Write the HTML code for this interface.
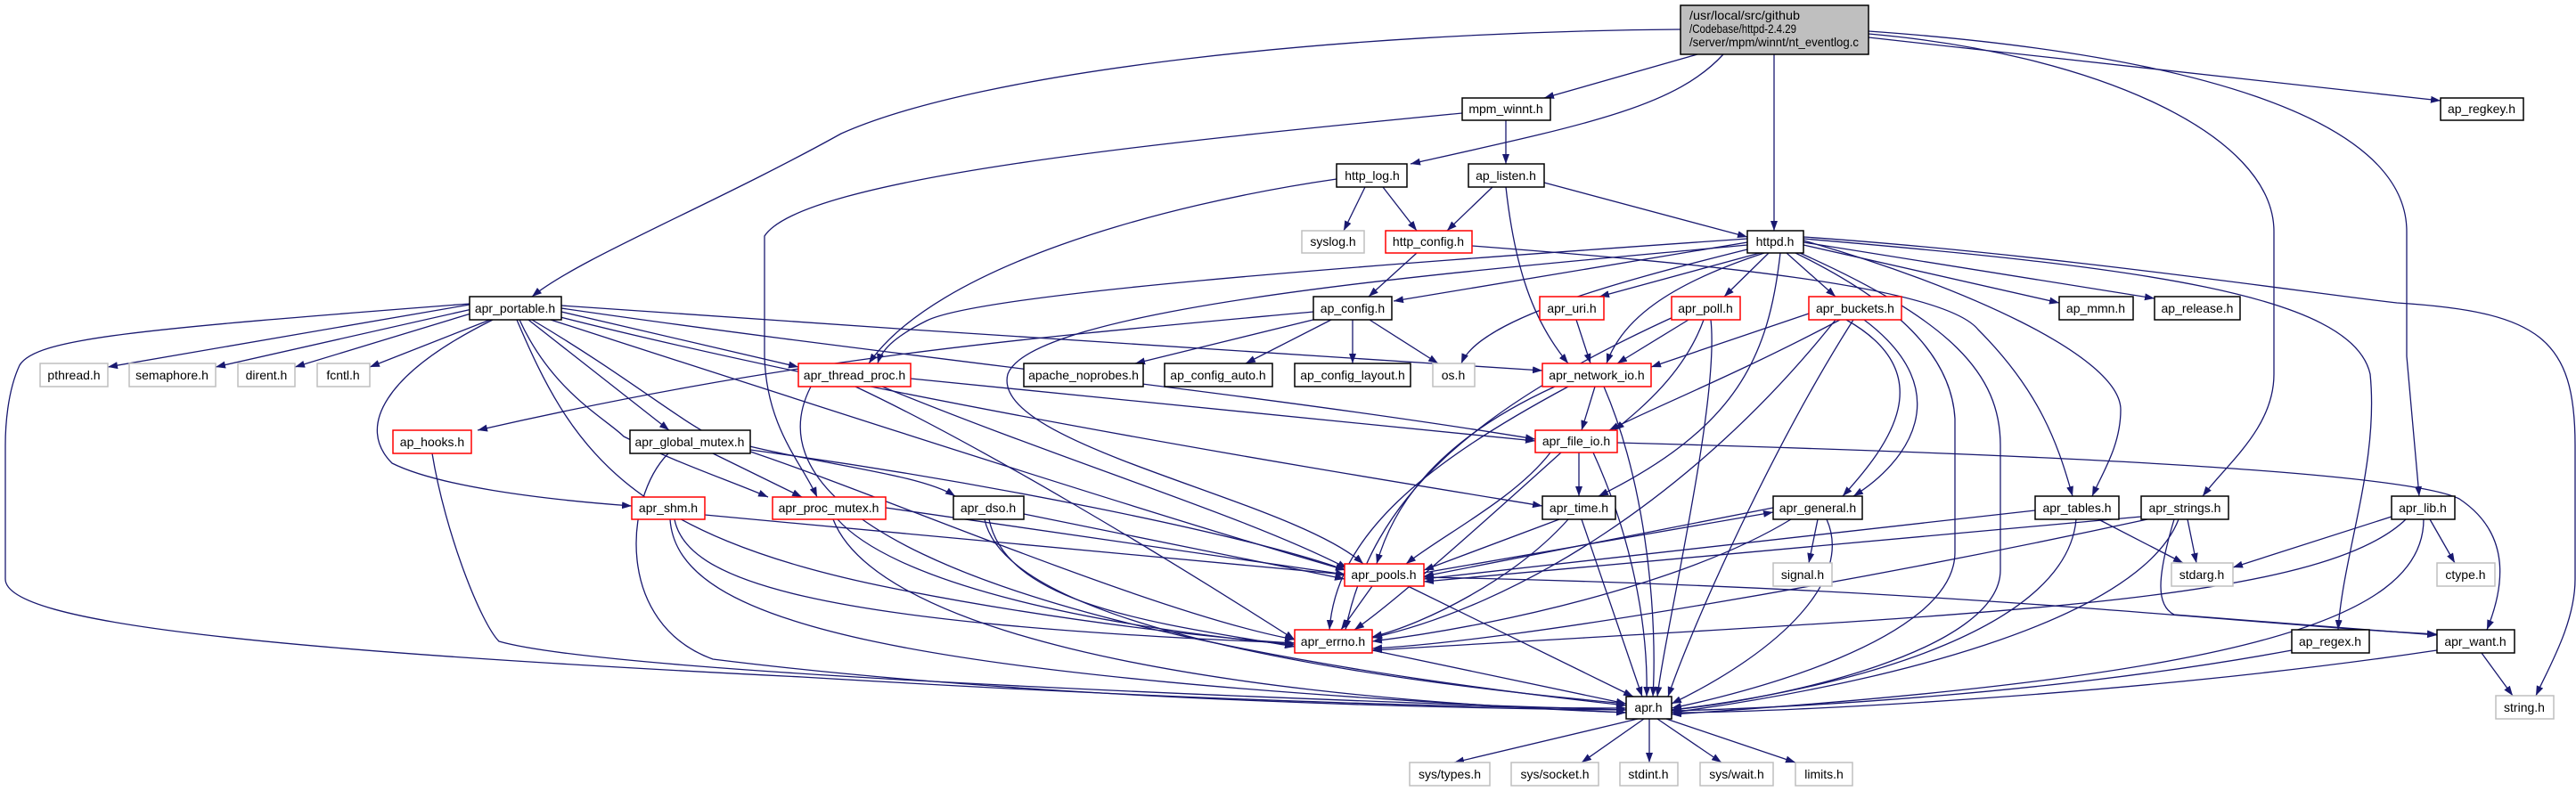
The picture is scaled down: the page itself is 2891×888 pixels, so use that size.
<!DOCTYPE html>
<html><head><meta charset="utf-8"><style>
html,body{margin:0;padding:0;background:#fff;}
svg{display:block;}
text{font-family:"Liberation Sans",sans-serif;font-size:14px;fill:#000;}
</style></head><body>
<svg width="2891" height="888" viewBox="0 0 2891 888" xmlns="http://www.w3.org/2000/svg">
<defs><marker id="a" markerWidth="11" markerHeight="8" refX="11" refY="4" orient="auto" markerUnits="userSpaceOnUse"><path d="M0,0 L11,4 L0,8 z" fill="#191970"/></marker></defs>
<g fill="none" stroke="#191970" stroke-width="1.3" marker-end="url(#a)">
<path d="M1905,61 L1733,110"/>
<path d="M1934,61 C1880,120 1780,140 1583,184"/>
<path d="M1991,61 L1991,259"/>
<path d="M2097,42 L2739,113"/>
<path d="M1886,33 C1500,36 1100,80 944,150 C800,230 650,290 597,333"/>
<path d="M2097,38 C2350,60 2552,150 2552,260 L2552,420 C2552,480 2500,520 2472,557"/>
<path d="M2097,35 C2450,60 2701,130 2701,260 L2701,400 L2715,557"/>
<path d="M1690,135 L1690,184"/>
<path d="M1641,127 C1300,160 900,200 858,265 L858,400 C860,480 900,520 917,558"/>
<path d="M1532,210 L1508,259"/>
<path d="M1552,210 L1590,259"/>
<path d="M1500,201 C1300,230 1050,300 975,408"/>
<path d="M1675,210 L1624,259"/>
<path d="M1733,205 L1961,266"/>
<path d="M1690,210 C1700,300 1720,360 1760,408"/>
<path d="M1590,284 L1536,333"/>
<path d="M1652,276 C1900,295 2180,320 2220,370 C2290,440 2310,500 2326,557"/>
<path d="M2024,270 C2200,320 2380,400 2380,460 C2380,500 2360,530 2348,557"/>
<path d="M1961,272 L1564,338"/>
<path d="M1961,268 C1500,300 1100,330 1040,360 C1010,375 990,390 985,408"/>
<path d="M1961,275 C1700,300 1160,340 1131,420 C1110,500 1450,560 1530,633"/>
<path d="M1961,280 C1800,320 1660,360 1640,408"/>
<path d="M1975,284 L1795,333"/>
<path d="M1980,284 C1870,320 1820,360 1803,408"/>
<path d="M1985,284 L1935,333"/>
<path d="M2005,284 L2060,333"/>
<path d="M2024,275 L2311,340"/>
<path d="M2024,272 L2418,335"/>
<path d="M1998,284 C1985,400 1950,480 1794,557"/>
<path d="M2015,284 C2130,340 2190,400 2194,470 L2194,620 C2194,720 1950,780 1876,795"/>
<path d="M2020,284 C2190,360 2245,420 2245,500 L2245,640 C2245,730 2000,785 1876,797"/>
<path d="M2024,268 C2400,300 2640,330 2660,420 C2670,520 2630,620 2624,707"/>
<path d="M2024,266 C2300,285 2600,330 2690,340 C2850,350 2890,380 2890,500 L2890,650 C2890,700 2860,750 2846,781"/>
<path d="M1490,355 L1274,408"/>
<path d="M1494,359 L1398,408"/>
<path d="M1518,359 L1518,408"/>
<path d="M1537,359 L1614,408"/>
<path d="M1474,350 C1150,380 900,400 536,483"/>
<path d="M527,342 L121,412"/>
<path d="M530,347 L242,412"/>
<path d="M535,350 L331,412"/>
<path d="M550,359 L415,412"/>
<path d="M527,341 C150,370 40,380 22,410 C8,440 6,480 6,500 L6,650 C6,700 300,730 900,760 C1400,790 1700,795 1825,795"/>
<path d="M553,359 C430,420 400,480 440,520 C490,545 600,560 709,568"/>
<path d="M593,359 L751,483"/>
<path d="M583,359 C620,440 680,470 700,490 C760,520 820,540 862,558"/>
<path d="M597,359 C700,420 760,470 800,490 C900,520 1030,530 1072,557"/>
<path d="M580,359 C640,500 700,600 1000,660 C1200,700 1400,720 1453,722"/>
<path d="M618,359 C900,450 1300,580 1510,640"/>
<path d="M625,355 C1000,450 1500,530 1731,568"/>
<path d="M630,350 L896,412"/>
<path d="M630,343 C1000,370 1500,400 1731,416"/>
<path d="M630,346 C1000,400 1400,440 1723,493"/>
<path d="M1769,359 L1785,408"/>
<path d="M1895,359 L1815,408"/>
<path d="M1912,359 C1890,420 1840,460 1812,483"/>
<path d="M1880,355 C1650,460 1540,560 1510,707"/>
<path d="M1920,359 C1930,450 1870,700 1860,782"/>
<path d="M2030,352 L1853,412"/>
<path d="M2065,359 C1950,420 1850,460 1806,483"/>
<path d="M2072,359 C2180,420 2120,500 2068,557"/>
<path d="M2092,359 C2200,440 2140,520 2080,557"/>
<path d="M2060,359 C1900,560 1700,680 1540,716"/>
<path d="M2080,359 C1990,500 1900,700 1872,782"/>
<path d="M1022,425 L1723,495"/>
<path d="M990,434 C1200,520 1400,580 1512,638"/>
<path d="M960,434 C1100,500 1300,620 1453,718"/>
<path d="M910,434 C850,550 1000,700 1825,792"/>
<path d="M1790,434 L1775,483"/>
<path d="M1745,434 C1600,500 1560,580 1545,633"/>
<path d="M1760,434 C1600,520 1500,600 1492,707"/>
<path d="M1800,434 C1850,550 1860,700 1855,782"/>
<path d="M1772,508 L1772,557"/>
<path d="M1740,508 C1700,560 1620,600 1578,633"/>
<path d="M1752,508 C1650,600 1560,680 1520,707"/>
<path d="M1788,508 C1830,600 1850,700 1848,782"/>
<path d="M1815,497 C2300,510 2700,530 2760,560 C2820,600 2810,660 2791,707"/>
<path d="M485,509 C500,600 540,700 560,720 C700,760 1600,790 1825,797"/>
<path d="M800,509 L900,558"/>
<path d="M842,505 C1100,540 1400,600 1510,640"/>
<path d="M842,507 C1000,560 1300,690 1453,718"/>
<path d="M750,509 C700,560 690,700 800,740 C1200,790 1700,796 1825,797"/>
<path d="M791,578 L1510,645"/>
<path d="M757,583 C770,650 900,700 1453,722"/>
<path d="M752,583 C760,700 1000,760 1825,800"/>
<path d="M994,570 L1510,645"/>
<path d="M940,583 C1000,650 1200,700 1453,724"/>
<path d="M935,583 C980,700 1300,780 1825,800"/>
<path d="M1149,577 L1509,650"/>
<path d="M1110,583 C1130,680 1300,700 1453,726"/>
<path d="M1105,583 C1130,700 1500,760 1825,790"/>
<path d="M1750,583 L1598,640"/>
<path d="M1760,583 C1700,650 1600,700 1540,715"/>
<path d="M1775,583 L1843,782"/>
<path d="M1990,570 L1598,647"/>
<path d="M1598,643 L1990,575"/>
<path d="M2040,583 L2030,632"/>
<path d="M2010,583 C1900,650 1700,700 1540,720"/>
<path d="M2050,583 C2080,650 2000,730 1876,790"/>
<path d="M2284,573 L1598,650"/>
<path d="M2355,583 L2450,632"/>
<path d="M2330,583 C2320,700 2100,770 1876,797"/>
<path d="M2403,580 L1598,653"/>
<path d="M2455,583 L2465,632"/>
<path d="M2440,583 C2420,650 2420,680 2440,690 L2735,713"/>
<path d="M2410,583 C2100,650 1700,720 1540,728"/>
<path d="M2445,583 C2400,700 2100,770 1876,800"/>
<path d="M2684,580 L2506,637"/>
<path d="M2727,583 L2755,632"/>
<path d="M2700,583 C2600,680 2200,690 1540,730"/>
<path d="M2720,583 C2720,700 2500,760 1876,802"/>
<path d="M1540,658 L1505,707"/>
<path d="M1580,658 L1833,782"/>
<path d="M1598,648 C2200,660 2500,700 2735,712"/>
<path d="M1540,730 L1825,790"/>
<path d="M2572,730 C2300,780 2000,795 1876,798"/>
<path d="M2735,730 C2400,780 2000,800 1876,800"/>
<path d="M2785,733 L2820,781"/>
<path d="M1838,807 L1632,856"/>
<path d="M1845,807 L1775,856"/>
<path d="M1851,807 L1851,856"/>
<path d="M1860,807 L1932,856"/>
<path d="M1870,807 L2015,856"/>
</g>
<g stroke-width="1.5">
<rect x="1886" y="6" width="211" height="55" fill="#bfbfbf" stroke="#000"/>
<text x="1896" y="22" textLength="124" lengthAdjust="spacingAndGlyphs">/usr/local/src/github</text>
<text x="1896" y="37" textLength="120" lengthAdjust="spacingAndGlyphs">/Codebase/httpd-2.4.29</text>
<text x="1896" y="52" textLength="190" lengthAdjust="spacingAndGlyphs">/server/mpm/winnt/nt_eventlog.c</text>
</g>
<g stroke-width="1.5" fill="#fff" text-anchor="middle">
<g stroke="#000" fill="#fff">
<rect x="1641" y="110" width="99" height="25"/><rect x="2739" y="110" width="93" height="25"/>
<rect x="1500" y="184" width="79" height="26"/><rect x="1648" y="184" width="85" height="26"/>
<rect x="1961" y="259" width="63" height="25"/><rect x="527" y="333" width="103" height="26"/>
<rect x="1474" y="333" width="88" height="26"/><rect x="2311" y="333" width="83" height="26"/>
<rect x="2418" y="333" width="96" height="26"/><rect x="1149" y="408" width="134" height="26"/>
<rect x="1307" y="408" width="121" height="26"/><rect x="1453" y="408" width="130" height="26"/>
<rect x="707" y="483" width="135" height="26"/><rect x="1070" y="557" width="79" height="26"/>
<rect x="1731" y="557" width="82" height="26"/><rect x="1990" y="557" width="100" height="26"/>
<rect x="2284" y="557" width="94" height="26"/><rect x="2403" y="557" width="98" height="26"/>
<rect x="2684" y="557" width="71" height="26"/><rect x="2572" y="707" width="87" height="26"/>
<rect x="2735" y="707" width="87" height="26"/><rect x="1825" y="782" width="51" height="25"/>
</g>
<g stroke="#ff0000" fill="#fff">
<rect x="1555" y="259" width="97" height="25"/><rect x="1728" y="333" width="72" height="26"/>
<rect x="1876" y="333" width="77" height="26"/><rect x="2030" y="333" width="104" height="26"/>
<rect x="896" y="408" width="126" height="26"/><rect x="1731" y="408" width="122" height="26"/>
<rect x="441" y="483" width="88" height="26"/><rect x="1723" y="483" width="92" height="25"/>
<rect x="709" y="558" width="82" height="25"/><rect x="867" y="558" width="127" height="25"/>
<rect x="1509" y="633" width="89" height="25"/><rect x="1453" y="707" width="87" height="26"/>
</g>
<g stroke="#bfbfbf" fill="#fff">
<rect x="1461" y="259" width="70" height="25"/><rect x="45" y="408" width="76" height="26"/>
<rect x="145" y="408" width="97" height="26"/><rect x="267" y="408" width="64" height="26"/>
<rect x="356" y="408" width="59" height="26"/><rect x="1608" y="408" width="47" height="26"/>
<rect x="1990" y="632" width="66" height="26"/><rect x="2437" y="632" width="69" height="26"/>
<rect x="2735" y="632" width="65" height="26"/><rect x="2801" y="781" width="65" height="26"/>
<rect x="1582" y="856" width="90" height="26"/><rect x="1696" y="856" width="98" height="26"/>
<rect x="1818" y="856" width="65" height="26"/><rect x="1908" y="856" width="82" height="26"/>
<rect x="2015" y="856" width="64" height="26"/>
</g>
</g>
<g text-anchor="middle">
<text x="1690" y="127">mpm_winnt.h</text><text x="2785" y="127">ap_regkey.h</text>
<text x="1540" y="202">http_log.h</text><text x="1690" y="202">ap_listen.h</text>
<text x="1992" y="276">httpd.h</text><text x="578" y="351">apr_portable.h</text>
<text x="1518" y="351">ap_config.h</text><text x="2352" y="351">ap_mmn.h</text>
<text x="2466" y="351">ap_release.h</text><text x="1216" y="426">apache_noprobes.h</text>
<text x="1367" y="426">ap_config_auto.h</text><text x="1518" y="426">ap_config_layout.h</text>
<text x="774" y="501">apr_global_mutex.h</text><text x="1109" y="575">apr_dso.h</text>
<text x="1772" y="575">apr_time.h</text><text x="2040" y="575">apr_general.h</text>
<text x="2331" y="575">apr_tables.h</text><text x="2452" y="575">apr_strings.h</text>
<text x="2719" y="575">apr_lib.h</text><text x="2615" y="725">ap_regex.h</text>
<text x="2778" y="725">apr_want.h</text><text x="1850" y="799">apr.h</text>
<text x="1603" y="276">http_config.h</text><text x="1764" y="351">apr_uri.h</text>
<text x="1914" y="351">apr_poll.h</text><text x="2082" y="351">apr_buckets.h</text>
<text x="959" y="426">apr_thread_proc.h</text><text x="1792" y="426">apr_network_io.h</text>
<text x="485" y="501">ap_hooks.h</text><text x="1769" y="500">apr_file_io.h</text>
<text x="750" y="575">apr_shm.h</text><text x="930" y="575">apr_proc_mutex.h</text>
<text x="1553" y="650">apr_pools.h</text><text x="1496" y="725">apr_errno.h</text>
<text x="1496" y="276">syslog.h</text><text x="83" y="426">pthread.h</text>
<text x="193" y="426">semaphore.h</text><text x="299" y="426">dirent.h</text>
<text x="385" y="426">fcntl.h</text><text x="1631" y="426">os.h</text>
<text x="2023" y="650">signal.h</text><text x="2471" y="650">stdarg.h</text>
<text x="2767" y="650">ctype.h</text><text x="2833" y="799">string.h</text>
<text x="1627" y="874">sys/types.h</text><text x="1745" y="874">sys/socket.h</text>
<text x="1850" y="874">stdint.h</text><text x="1949" y="874">sys/wait.h</text>
<text x="2047" y="874">limits.h</text>
</g>
</svg>
</body></html>
